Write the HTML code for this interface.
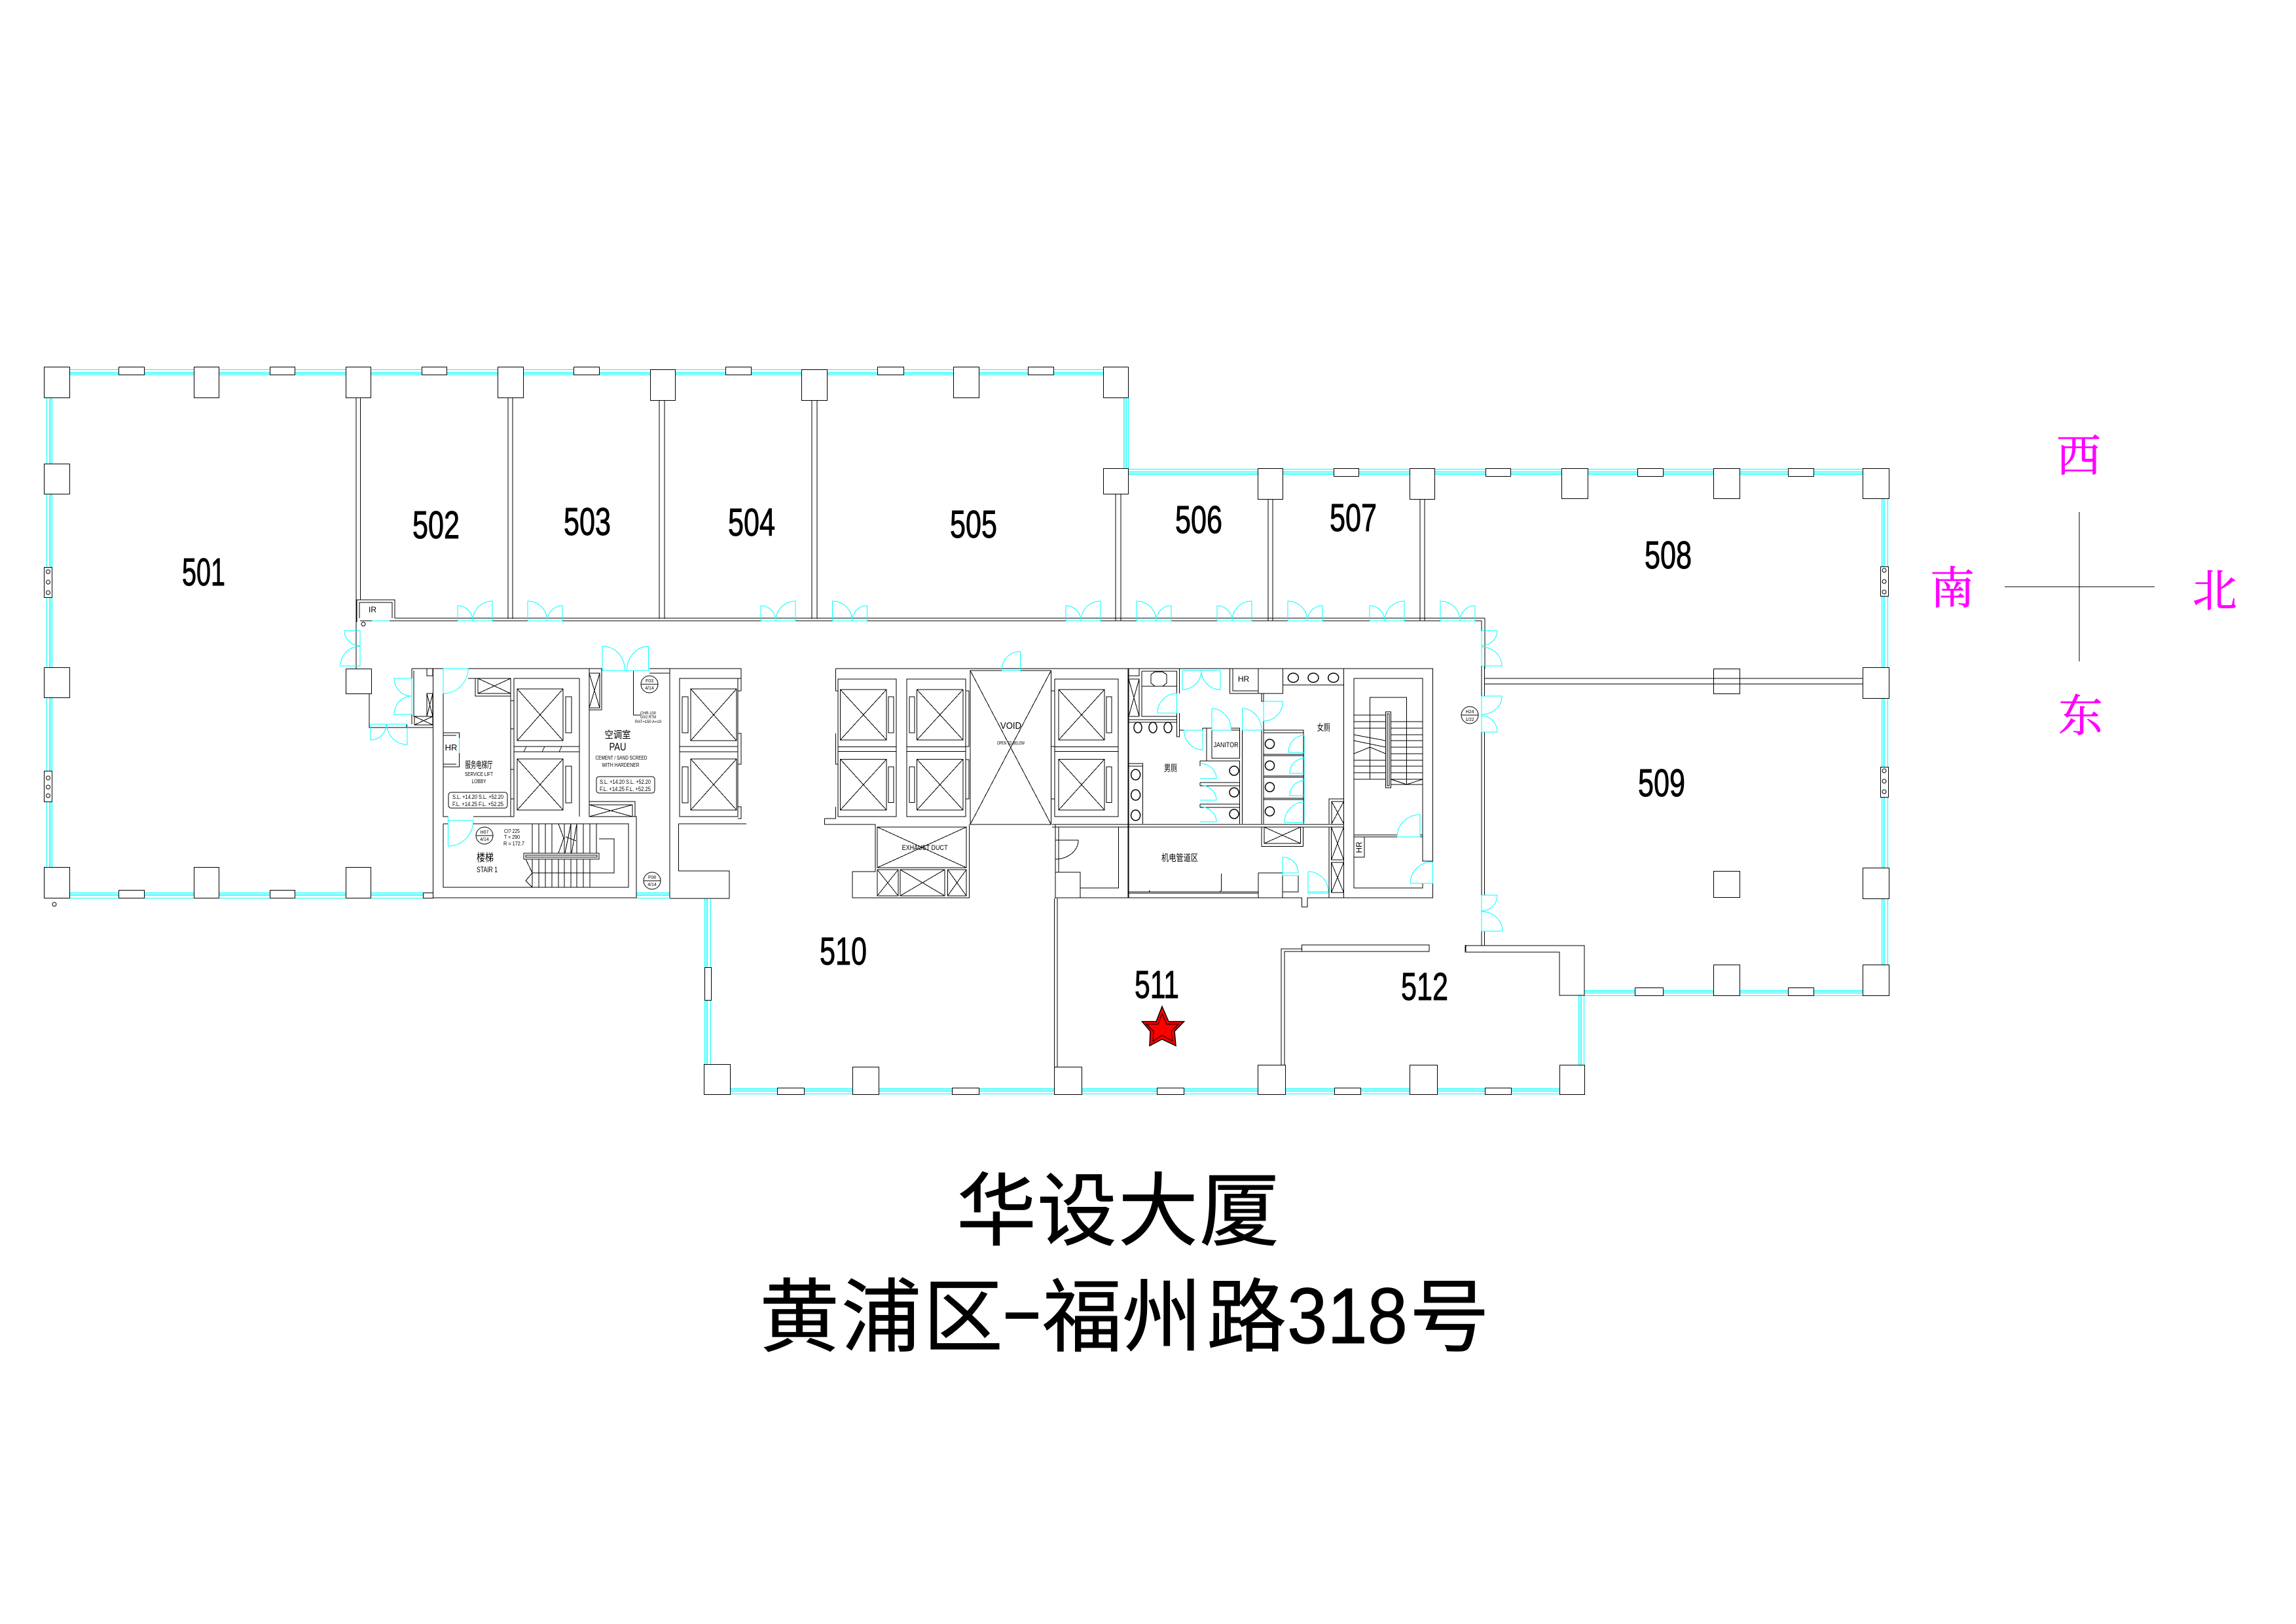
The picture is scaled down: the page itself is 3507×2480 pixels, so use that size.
<!DOCTYPE html>
<html><head><meta charset="utf-8"><title>华设大厦</title>
<style>
html,body{margin:0;padding:0;background:#fff}
svg{display:block}
.n{font-family:"Liberation Sans",sans-serif;font-size:59px;fill:#000;stroke:#000;stroke-width:1}
.s{font-family:"Liberation Sans","Noto Sans CJK SC",sans-serif;fill:#000;text-anchor:middle}
.t{font-family:"Liberation Sans","Noto Sans CJK SC",sans-serif;font-size:122px;fill:#000;stroke:#000;stroke-width:.8;text-anchor:middle}
.c{font-family:"Liberation Serif","Noto Serif CJK SC",serif;font-size:68px;fill:#f0f;stroke:#f0f;stroke-width:.8;text-anchor:middle}
</style></head><body>
<svg xmlns="http://www.w3.org/2000/svg" width="3507" height="2480" viewBox="0 0 3507 2480">
<defs>
<g id="dA"><rect x="0" y="27" width="53" height="4" fill="#fff" stroke="none"/><path d="M0 30H53V0A30 30 0 0 0 23 30M0 30V7A23 23 0 0 1 23 30"/></g>
<g id="dB"><rect x="0" y="27" width="53" height="4" fill="#fff" stroke="none"/><path d="M0 30H53V7A23 23 0 0 0 30 30M0 30V0A30 30 0 0 1 30 30"/></g>
</defs>
<rect width="3507" height="2480" fill="#fff"/>

<!-- glazing -->
<g fill="none" stroke="#0ff" stroke-width="1" shape-rendering="crispEdges">
<path d="M80 564.500H1700M80 568.500H1700M80 570.500H1700M80 572.500H1700"/>
<path d="M71.500 590V1350M75.500 590V1350M77.500 590V1350M79.500 590V1350"/>
<path d="M80 1363.500H660M80 1365.500H660M80 1367.500H660M80 1371.500H660"/>
<path d="M972 1363.500H1023M972 1365.500H1023M972 1367.500H1023M972 1371.500H1023"/>
<path d="M1716.500 590V730M1718.500 590V730M1720.500 590V730M1723.500 590V730"/>
<path d="M1723 716.500H2860M1723 720.500H2860M1723 722.500H2860M1723 724.500H2860"/>
<path d="M2874.500 730V1500M2876.500 730V1500M2878.500 730V1500M2883.500 730V1500"/>
<path d="M2420 1512.500H2860M2420 1514.500H2860M2420 1516.500H2860M2420 1520.500H2860"/>
<path d="M2411.500 1519V1640M2413.500 1519V1640M2415.500 1519V1640M2419.500 1519V1640"/>
<path d="M1100 1662.500H2400M1100 1664.500H2400M1100 1666.500H2400M1100 1670.500H2400"/>
<path d="M1076.500 1372V1640M1078.500 1372V1640M1080.500 1372V1640M1085.500 1372V1640"/>
</g>

<!-- columns and windows -->
<g fill="#fff" stroke="#000" stroke-width="1" shape-rendering="crispEdges">
<rect x="67.500" y="560.500" width="39" height="47"/><rect x="296.500" y="560.500" width="38" height="47"/><rect x="528.500" y="560.500" width="38" height="47"/><rect x="760.500" y="560.500" width="39" height="47"/><rect x="993.500" y="564.500" width="38" height="47"/><rect x="1224.500" y="564.500" width="39" height="47"/><rect x="1456.500" y="560.500" width="39" height="47"/><rect x="1685.500" y="560.500" width="38" height="47"/>
<rect x="181.500" y="560.500" width="39" height="12"/><rect x="412.500" y="560.500" width="38" height="12"/><rect x="644.500" y="560.500" width="38" height="12"/><rect x="876.500" y="560.500" width="39" height="12"/><rect x="1108.500" y="560.500" width="39" height="12"/><rect x="1340.500" y="560.500" width="40" height="12"/><rect x="1570.500" y="560.500" width="39" height="12"/>
<rect x="67.500" y="708.500" width="39" height="46"/><rect x="67.500" y="1019.500" width="39" height="46"/><rect x="67.500" y="1324.500" width="39" height="47"/><rect x="67.500" y="866.500" width="12" height="46"/><rect x="67.500" y="1177.500" width="12" height="47"/>
<rect x="296.500" y="1324.500" width="38" height="47"/><rect x="528.500" y="1324.500" width="38" height="47"/><rect x="181.500" y="1359.500" width="39" height="12"/><rect x="412.500" y="1359.500" width="38" height="12"/><rect x="646.500" y="1363.500" width="15" height="8"/>
<rect x="1685.500" y="715.500" width="38" height="39"/><rect x="1921.500" y="715.500" width="38" height="47"/><rect x="2153.500" y="715.500" width="38" height="47"/><rect x="2385.500" y="715.500" width="40" height="46"/><rect x="2617.500" y="715.500" width="40" height="46"/><rect x="2845.500" y="715.500" width="40" height="46"/>
<rect x="2037.500" y="715.500" width="38" height="12"/><rect x="2269.500" y="715.500" width="38" height="12"/><rect x="2501.500" y="715.500" width="39" height="12"/><rect x="2731.500" y="715.500" width="39" height="12"/>
<rect x="2872.500" y="865.500" width="12" height="45"/><rect x="2872.500" y="1171.500" width="12" height="46"/>
<rect x="2617.500" y="1021.500" width="40" height="38"/><rect x="2845.500" y="1019.500" width="40" height="47"/><rect x="2845.500" y="1325.500" width="40" height="47"/><rect x="2845.500" y="1473.500" width="40" height="47"/>
<rect x="2617.500" y="1330.500" width="40" height="40"/><rect x="2617.500" y="1473.500" width="40" height="47"/><rect x="2497.500" y="1508.500" width="43" height="12"/><rect x="2731.500" y="1508.500" width="39" height="12"/>
<rect x="1075.500" y="1625.500" width="40" height="46"/><rect x="1302.500" y="1629.500" width="40" height="42"/><rect x="1610.500" y="1629.500" width="42" height="42"/><rect x="1921.500" y="1626.500" width="42" height="45"/><rect x="2153.500" y="1626.500" width="42" height="45"/><rect x="2382.500" y="1626.500" width="38" height="45"/>
<rect x="1187.500" y="1661.500" width="41" height="10"/><rect x="1454.500" y="1661.500" width="41" height="10"/><rect x="1767.500" y="1661.500" width="41" height="10"/><rect x="2038.500" y="1661.500" width="40" height="10"/><rect x="2268.500" y="1661.500" width="40" height="10"/>
<rect x="1076.500" y="1477.500" width="10" height="50"/>
<rect x="528.500" y="1021.500" width="39" height="38"/>
</g>
<g fill="none" stroke="#000" stroke-width="1">
<circle cx="73.500" cy="873" r="3"/><circle cx="73.500" cy="889" r="3"/><circle cx="73.500" cy="905" r="3"/><circle cx="73.500" cy="1188" r="3"/><circle cx="73.500" cy="1202" r="3"/><circle cx="73.500" cy="1215" r="3"/>
<circle cx="2878" cy="871" r="3"/><circle cx="2878" cy="888" r="3"/><circle cx="2878" cy="904" r="3"/><circle cx="2878" cy="1177" r="3"/><circle cx="2878" cy="1193" r="3"/><circle cx="2878" cy="1209" r="3"/>
<circle cx="83" cy="1381" r="3"/><circle cx="555" cy="953" r="3"/>
</g>

<!-- black walls -->
<g fill="none" stroke="#000" stroke-width="1" shape-rendering="crispEdges">
<!-- partitions -->
<path d="M544 607V1021M550.500 607V916M776 607V945M783 607V945M1007 611V945M1015 611V945M1240 611V945M1248 611V945M1704 754V948M1712 754V948M1937 762V948M1944 762V948M2169 762V948M2176 762V948"/>
<path d="M603 944H2268M550 948H2263M2268 944V1021M2263 948V963"/>
<path d="M545 950V916H603V944M549 944V920H599V944"/>
<path d="M2263 1017V1063M2267.500 1017V1063M2263 1118V1367M2267.500 1118V1367M2263 1422V1444M2267.500 1422V1444"/>
<path d="M2267 1036H2845M2267 1044.500H2845"/>
<path d="M2238 1444H2420V1520H2382V1454H2238Z"/>
<path d="M1988.500 1443H2183V1453H1988.500ZM1957 1626V1449H1988.500M1962 1626V1453H1988.500"/>
<path d="M2239 1443V1453"/>
<path d="M1610.500 1372V1629M1615 1372V1629"/>
<!-- core left -->
<path d="M629 1021H677M715 1021H920M992 1021H1132V1036H1127M992 1028H1023M1023 1021V1371M661.500 1021V1371H972V1247H900V1021M885 1036V1247M972 1371"/>
<path d="M564 1059V1111H621V1106M629 1021V1106M632 1024V1094H661M621 1111H661M633 1094H661V1107H633ZM633 1094L661 1107M661 1094L633 1107M652 1059H661V1094H652ZM652 1059L661 1094M661 1059L652 1094M652 1021H661V1032H652Z"/>
<path d="M677 1059V1247H684.500M723 1247H785M715 1036H780V1247M726 1036V1063H780M730 1036V1059H780M730 1036L780 1059M780 1036L730 1059"/>
<path d="M780 1070H785M780 1113H785M780 1175H785M780 1220H785"/>
<path d="M785 1036H885M785 1036V1247M785 1140H885M785 1148H885M790 1052H860V1131H790ZM790 1052L860 1131M860 1052L790 1131M864 1064H873V1119H864ZM790 1159H860V1237H790ZM790 1159L860 1237M860 1159L790 1237M864 1170H873V1226H864Z"/>
<path d="M804 1140L800 1148M832 1140L828 1148M858 1140L854 1148"/>
<path d="M900 1021H919V1084H900M900 1028H916V1081H900M900 1028L916 1081M916 1028L900 1081"/>
<path d="M967.500 1024V1092H979"/>
<path d="M900 1224H970V1247M900 1229H966V1247M900 1229L966 1247M966 1229L900 1247"/>
<path d="M677 1119H701.500V1127M677 1123H697M701.500 1150V1171H677M677 1167H697"/>
<rect x="685" y="1210" width="90" height="24" rx="4"/>
<rect x="911" y="1186" width="89" height="25" rx="4"/>
<path d="M1038 1036H1127V1247H1038ZM1038 1140H1127M1038 1148H1127M1055 1052H1125V1131H1055ZM1055 1052L1125 1131M1125 1052L1055 1131M1042 1064H1051V1119H1042ZM1055 1159H1125V1237H1055ZM1055 1159L1125 1237M1125 1159L1055 1237M1042 1171H1051V1226H1042Z"/>
<path d="M1127 1055H1132M1127 1120H1132V1167H1127M1127 1232H1132V1250H1127M1132 1036V1055"/>
<path d="M1036.500 1258H1140M1036.500 1258V1330H1114V1372H1023"/>
<!-- stair 1 -->
<path d="M677 1258H684.500M723 1258H960V1355H677V1258"/>
<path d="M800 1303H915V1312H800ZM803 1306H912V1309H803Z"/>
<path d="M915 1281H938V1333H813"/>
<path d="M813 1258V1303M823 1258V1303M833 1258V1303M843 1258V1303M862 1258V1303M872 1258V1303M881 1258V1303M891 1258V1303M901 1258V1303M911 1258V1303"/>
<path d="M813 1312V1355M823 1312V1355M833 1312V1355M843 1312V1355M853 1312V1355M862 1312V1355M872 1312V1355M881 1312V1355M891 1312V1355M901 1312V1355"/>
<path d="M853 1258L861 1280L853 1303M863 1303L872 1258M873 1303L881 1258M864 1278L880 1284M803 1312L813 1333L803 1345L813 1355"/>
<!-- centre lifts -->
<path d="M1276.500 1021H2188.500V1371H2030M1276.500 1021V1055H1280M1276.500 1120V1167H1280M1276.500 1232V1250"/>
<path d="M1280 1037H1369V1247H1280ZM1280 1140.500H1369M1280 1147.500H1369M1283.500 1053H1354V1130H1283.500ZM1283.500 1053L1354 1130M1354 1053L1283.500 1130M1357 1064H1365V1119H1357ZM1283.500 1159.500H1354V1237H1283.500ZM1283.500 1159.500L1354 1237M1354 1159.500L1283.500 1237M1357 1171H1365V1225.500H1357Z"/>
<path d="M1385 1037H1475V1247H1385ZM1385 1140.500H1475M1385 1147.500H1475M1400.500 1053H1471V1130H1400.500ZM1400.500 1053L1471 1130M1471 1053L1400.500 1130M1389 1064H1397V1119H1389ZM1400.500 1159.500H1471V1237H1400.500ZM1400.500 1159.500L1471 1237M1471 1159.500L1400.500 1237M1389 1171H1397V1225.500H1389Z"/>
<path d="M1482 1024H1605.500V1259H1482ZM1482 1024L1605.500 1259M1605.500 1024L1482 1259"/>
<path d="M1611 1037H1708V1247H1611ZM1611 1140.500H1708M1611 1147.500H1708M1617 1053H1687V1130H1617ZM1617 1053L1687 1130M1687 1053L1617 1130M1690 1064H1698V1119H1690ZM1617 1159.500H1687V1237H1617ZM1617 1159.500L1687 1237M1687 1159.500L1617 1237M1690 1171H1698V1225.500H1690Z"/>
<path d="M1475 1055H1480V1140H1475M1475 1160H1480V1220H1475M1605.500 1055H1611M1605.500 1140H1611M1605.500 1220H1611"/>
<path d="M1259.500 1250H1276.500M1259.500 1250V1259H1337V1331H1302V1371H1480.500V1259"/>
<path d="M1340 1263H1476V1325H1340ZM1340 1263L1476 1325M1476 1263L1340 1325M1340 1328H1372V1368H1340ZM1340 1328L1372 1368M1372 1328L1340 1368M1375 1328H1443V1368H1375ZM1375 1328L1443 1368M1443 1328L1375 1368M1447.500 1328H1476V1368H1447.500ZM1447.500 1328L1476 1368M1476 1328L1447.500 1368"/>
<path d="M1612 1259V1372M1617 1263H1708.500V1356H1650M1617 1263V1332M1612 1283H1647A35 29 0 0 1 1612 1312M1612 1332H1650V1371H1612"/>
<path d="M1723 1021V1371M1607 1259H2052M1607 1263H2052M1620 1371H1988.500V1385H1997V1371H2030"/>
<!-- washrooms -->
<path d="M1724 1021H1740V1032H1724ZM1724 1037H1740V1094H1724ZM1724 1037L1740 1094M1740 1037L1724 1094M1744 1025H1797.500V1059M1744 1025V1094H1768M1744 1048H1797.500M1797.500 1089V1094H1744M1724 1099H1797.500M1724 1103H1797.500M1801.500 1021V1059M1797.500 1089V1103M1801.500 1089V1125H1797.500V1103M1801.500 1115H1808"/>
<path d="M1758 1030L1764 1026H1776L1782 1030V1043L1776 1048H1764L1758 1043Z"/>
<path d="M1878.500 1021V1059H1922M1883 1021V1055H1922M1922 1021H1959.500V1059H1922ZM1927 1059V1071H1930V1059M1959.500 1046H2052.500M2052.500 1021V1371"/>
<path d="M1837 1115V1112H1851M1880.500 1112H1893.500V1115M1843 1112V1162M1851 1115H1893.500V1158H1851ZM1833 1162H1893.500V1258M1833 1162V1170M1833 1195H1893.500M1833 1200H1893.500M1833 1228H1893.500M1833 1233H1893.500M1833 1195V1200M1833 1228V1233M1897.500 1115V1258M1927 1115V1258M1930 1115H1991V1258M1930 1119H1991M1930 1152H1991M1930 1154H1991M1930 1185H1991M1930 1187H1991M1930 1219H1991M1930 1221H1991M1930 1101V1258"/>
<path d="M1724 1166H1745.500V1258M1724 1170H1745.500M1724 1021V1371"/>
<path d="M2030 1258V1220H2052.500M2034 1258V1224H2052.500M2034 1224L2052.500 1258M2052.500 1224L2034 1258M2033.500 1263H2052.500V1313H2033.500ZM2033.500 1263L2052.500 1313M2052.500 1263L2033.500 1313M2033.500 1317H2052.500V1363H2033.500ZM2033.500 1317L2052.500 1363M2052.500 1317L2033.500 1363M2030 1263V1371"/>
<path d="M1927 1263V1292.500H1990.500V1263M1931 1263H1986.500V1288H1931ZM1931 1263L1986.500 1288M1986.500 1263L1931 1288"/>
<path d="M1724 1362H1922M1724 1364H1922M1922 1333H1959V1371M1922 1333V1371M1959 1362H1983V1337M1865.500 1334V1360L1863 1362M1755 1360L1757 1362"/>
<!-- stair 2 -->
<path d="M2068 1036H2173V1315H2188.500M2068 1036V1356H2173V1349"/>
<path d="M2116.500 1087H2124.500V1203H2116.500ZM2119 1090H2122V1200H2119Z"/>
<path d="M2092.500 1087V1065H2148.500V1198M2092.500 1087V1190"/>
<path d="M2068 1092H2116.500M2068 1102H2116.500M2068 1112H2116.500M2068 1122L2116.500 1131M2068 1131L2116.500 1141M2068 1151L2092.500 1141L2116.500 1151M2068 1161H2116.500M2068 1170H2116.500M2068 1180H2116.500M2068 1190H2116.500"/>
<path d="M2124.500 1102H2173M2124.500 1112H2173M2124.500 1122H2173M2124.500 1131H2173M2124.500 1141H2173M2124.500 1151H2173M2124.500 1161H2173M2124.500 1170H2173M2124.500 1180H2173M2124.500 1190H2173M2124.500 1198H2173M2124.500 1190L2148.500 1198L2173 1190"/>
<path d="M2068 1275H2134M2068 1278H2134M2169 1275H2173M2169 1278H2173M2084 1278V1309H2068"/>
</g>

<!-- fixtures and tag circles -->
<g fill="#fff" stroke="#000" stroke-width="1.500">
<ellipse cx="1738" cy="1111" rx="6" ry="8"/><ellipse cx="1761" cy="1111" rx="6" ry="8"/><ellipse cx="1784" cy="1111" rx="6" ry="8"/>
<ellipse cx="1975.400" cy="1035" rx="8" ry="7"/><ellipse cx="2006" cy="1035" rx="8" ry="7"/><ellipse cx="2036.700" cy="1035" rx="8" ry="7"/>
<ellipse cx="1734.600" cy="1183" rx="7" ry="8"/><ellipse cx="1734.600" cy="1214" rx="7" ry="8"/><ellipse cx="1734.600" cy="1245" rx="7" ry="8"/>
<circle cx="1885" cy="1177" r="7"/><circle cx="1885" cy="1210" r="7"/><circle cx="1885" cy="1243" r="7"/>
<circle cx="1939.500" cy="1136" r="7"/><circle cx="1939.500" cy="1169" r="7"/><circle cx="1939.500" cy="1202" r="7"/><circle cx="1939.500" cy="1239" r="7"/>
</g>
<g fill="#fff" stroke="#000" stroke-width="1">
<circle cx="740" cy="1276" r="13"/><circle cx="992" cy="1045" r="13"/><circle cx="996" cy="1345" r="13"/><circle cx="2245" cy="1092" r="13"/>
</g>
<path d="M727 1276H753M979 1045H1005M983 1345H1009M2232 1092H2258" stroke="#000" stroke-width="1" fill="none"/>

<!-- doors -->
<g fill="none" stroke="#0ff" stroke-width="1" shape-rendering="crispEdges">
<use href="#dA" x="699" y="918"/><use href="#dB" x="806" y="918"/><use href="#dA" x="1162" y="918"/><use href="#dB" x="1271.500" y="918"/><use href="#dA" x="1628" y="918"/><use href="#dB" x="1736" y="918"/><use href="#dA" x="1859" y="918"/><use href="#dB" x="1967" y="918"/><use href="#dA" x="2092" y="918"/><use href="#dB" x="2200" y="918"/>
<path d="M568 948H595"/>
<path d="M550 963V1017M550 963H526A24 23 0 0 0 550 986M550 1017H520A30 30 0 0 1 550 987"/>
<path d="M629 1036V1091M629 1036H602A27 27 0 0 0 629 1063M629 1091H602A27 28 0 0 1 629 1063"/>
<path d="M566 1106H622V1137A31 31 0 0 1 591 1106M566 1106V1130A24 24 0 0 0 590 1106"/>
<path d="M677 1021H715A38 38 0 0 1 677 1059ZM677 1021"/>
<path d="M920 1024H990.500V987A33 37 0 0 0 957.500 1024M920 1024V987A33 37 0 0 1 954.500 1024"/>
<path d="M701.500 1127V1150"/>
<path d="M684.500 1253H723A38 39 0 0 1 684.500 1292V1247"/>
<path d="M1530 1024H1558.500V995A28 29 0 0 0 1530 1024"/>
<path d="M2263 963V1017M2263 963H2287A24 23 0 0 1 2263 986M2263 1017H2294A31 29 0 0 0 2263 988"/>
<path d="M2263 1063V1118M2263 1063H2294A31 28 0 0 1 2263 1091M2263 1118H2287A24 25 0 0 0 2263 1093"/>
<path d="M2263 1367V1422M2263 1367H2287A24 24 0 0 1 2263 1391M2263 1422H2295A32 30 0 0 0 2263 1392"/>
<path d="M1806 1024H1864V1053A29 29 0 0 1 1835 1024A29 29 0 0 1 1806 1053V1024"/>
<path d="M1768 1089H1797.500V1059A29.500 30 0 0 0 1768 1089"/>
<path d="M1808.500 1115H1837V1145A28.500 30 0 0 1 1808.500 1115"/>
<path d="M1851 1082V1115H1880.500A29.500 33 0 0 0 1851 1082"/>
<path d="M1897.500 1082V1115H1927A29.500 33 0 0 0 1897.500 1082"/>
<path d="M1930 1071H1959.500A29.500 30 0 0 1 1930 1101V1071"/>
<path d="M1833 1166A25 23 0 0 1 1858 1189H1833M1833 1199A25 23 0 0 1 1858 1222H1833M1833 1232A25 23 0 0 1 1858 1255H1833"/>
<path d="M1992 1123V1149H1968A24 26 0 0 1 1992 1123M1992 1158V1181H1970A22 23 0 0 1 1992 1158M1992 1192V1215H1970A22 23 0 0 1 1992 1192M1992 1225V1256H1962A30 31 0 0 1 1992 1225M1992 1123V1256"/>
<path d="M1959 1309V1337H1983M1959 1309A24 24 0 0 1 1983 1333M1959 1333H1983"/>
<path d="M1998 1331V1364H2029M1998 1331A31 31 0 0 1 2029 1362M1998 1362H2029"/>
<path d="M2134 1278H2169V1244A35 34 0 0 0 2134 1278"/>
<path d="M2154 1349H2188.500V1316A34.500 33 0 0 0 2154 1349"/>
</g>

<!-- compass -->
<g stroke="#000" stroke-width="1" shape-rendering="crispEdges"><path d="M3176 782V1010"/><path d="M3062 896H3291"/></g>
<text class="c" x="3175" y="720">西</text>
<text class="c" x="2982" y="922">南</text>
<text class="c" x="3383" y="926">北</text>
<text class="c" x="3178" y="1117">东</text>

<!-- star -->
<path d="M1775 1537L1785 1560H1808.500L1794 1575L1796 1597L1775 1587L1756 1597L1757 1575L1744.500 1560H1766Z" fill="#f00" stroke="#000" stroke-width="1.500"/>
<path d="M1775 1548L1782 1564H1800L1789 1575L1791 1590L1775 1581L1761 1590L1762 1575L1751 1564H1769Z" fill="#f00" stroke="#000" stroke-width="1"/>

<!-- room numbers -->
<text class="n" x="278" y="894" textLength="66" lengthAdjust="spacingAndGlyphs">501</text>
<text class="n" x="630" y="822" textLength="72" lengthAdjust="spacingAndGlyphs">502</text>
<text class="n" x="861" y="817" textLength="72" lengthAdjust="spacingAndGlyphs">503</text>
<text class="n" x="1112" y="818" textLength="72" lengthAdjust="spacingAndGlyphs">504</text>
<text class="n" x="1451" y="821" textLength="72" lengthAdjust="spacingAndGlyphs">505</text>
<text class="n" x="1795" y="814" textLength="72" lengthAdjust="spacingAndGlyphs">506</text>
<text class="n" x="2031" y="811" textLength="72" lengthAdjust="spacingAndGlyphs">507</text>
<text class="n" x="2512" y="868" textLength="72" lengthAdjust="spacingAndGlyphs">508</text>
<text class="n" x="2502" y="1216" textLength="72" lengthAdjust="spacingAndGlyphs">509</text>
<text class="n" x="1252" y="1473" textLength="72" lengthAdjust="spacingAndGlyphs">510</text>
<text class="n" x="1733" y="1524" textLength="68" lengthAdjust="spacingAndGlyphs">511</text>
<text class="n" x="2140" y="1527" textLength="72" lengthAdjust="spacingAndGlyphs">512</text>

<!-- small labels -->
<g class="s">
<text class="s" x="569" y="935" font-size="12">IR</text>
<text class="s" x="689" y="1146" font-size="13">HR</text>
<text class="s" x="731.500" y="1173" font-size="14" textLength="42" lengthAdjust="spacingAndGlyphs">服务电梯厅</text>
<text class="s" x="731.500" y="1185" font-size="8" textLength="43" lengthAdjust="spacingAndGlyphs">SERVICE LIFT</text>
<text class="s" x="731.500" y="1196" font-size="8" textLength="22" lengthAdjust="spacingAndGlyphs">LOBBY</text>
<text class="s" x="730" y="1220" font-size="9" textLength="78" lengthAdjust="spacingAndGlyphs">S.L. +14.20 S.L. +52.20</text>
<text class="s" x="730" y="1231" font-size="9" textLength="78" lengthAdjust="spacingAndGlyphs">F.L. +14.25 F.L. +52.25</text>
<text class="s" x="943.500" y="1127" font-size="15" textLength="40" lengthAdjust="spacingAndGlyphs">空调室</text>
<text class="s" x="943.500" y="1146" font-size="17" textLength="26" lengthAdjust="spacingAndGlyphs">PAU</text>
<text class="s" x="949" y="1160" font-size="8" textLength="79" lengthAdjust="spacingAndGlyphs">CEMENT / SAND SCREED</text>
<text class="s" x="948" y="1171" font-size="8" textLength="57" lengthAdjust="spacingAndGlyphs">WITH HARDENER</text>
<text class="s" x="955" y="1197" font-size="9" textLength="78" lengthAdjust="spacingAndGlyphs">S.L. +14.20 S.L. +52.20</text>
<text class="s" x="955" y="1208" font-size="9" textLength="78" lengthAdjust="spacingAndGlyphs">F.L. +14.25 F.L. +52.25</text>
<text class="s" x="990" y="1091" font-size="6" textLength="24" lengthAdjust="spacingAndGlyphs">CHR-100</text>
<text class="s" x="990" y="1097" font-size="6" textLength="24" lengthAdjust="spacingAndGlyphs">G0/2 RTM</text>
<text class="s" x="990" y="1104" font-size="6" textLength="40" lengthAdjust="spacingAndGlyphs">RAT=150 A=19</text>
<text class="s" x="992" y="1042" font-size="7">F03</text><text class="s" x="992" y="1053" font-size="7">4/14</text>
<text class="s" x="740" y="1273" font-size="7">H07</text><text class="s" x="740" y="1284" font-size="7">4/14</text>
<text class="s" x="996" y="1342" font-size="7">F08</text><text class="s" x="996" y="1353" font-size="7">4/14</text>
<text class="s" x="2245" y="1089" font-size="7">H24</text><text class="s" x="2245" y="1101" font-size="7">1/22</text>
<text class="s" x="782" y="1272" font-size="8" textLength="24" lengthAdjust="spacingAndGlyphs">CI? 225</text>
<text class="s" x="782" y="1281" font-size="8" textLength="24" lengthAdjust="spacingAndGlyphs">T = 290</text>
<text class="s" x="785" y="1291" font-size="8" textLength="32" lengthAdjust="spacingAndGlyphs">R = 172.7</text>
<text class="s" x="741" y="1315" font-size="16" textLength="26" lengthAdjust="spacingAndGlyphs">楼梯</text>
<text class="s" x="744" y="1332" font-size="12" textLength="32" lengthAdjust="spacingAndGlyphs">STAIR 1</text>
<text class="s" x="1544" y="1113" font-size="15" textLength="32" lengthAdjust="spacingAndGlyphs">VOID</text>
<text class="s" x="1544" y="1137" font-size="7" textLength="42" lengthAdjust="spacingAndGlyphs">OPEN TO BELOW</text>
<text class="s" x="1412.600" y="1298" font-size="11" textLength="70" lengthAdjust="spacingAndGlyphs">EXHAUST DUCT</text>
<text class="s" x="1872.600" y="1141" font-size="11" textLength="38" lengthAdjust="spacingAndGlyphs">JANITOR</text>
<text class="s" x="1899.500" y="1041" font-size="12">HR</text>
<text class="s" x="2021.700" y="1116" font-size="14" textLength="20" lengthAdjust="spacingAndGlyphs">女厕</text>
<text class="s" x="1788" y="1178" font-size="14" textLength="20" lengthAdjust="spacingAndGlyphs">男厕</text>
<text class="s" x="1802" y="1315" font-size="14" textLength="56" lengthAdjust="spacingAndGlyphs">机电管道区</text>
<text class="s" font-size="12" transform="translate(2080,1294) rotate(-90)">HR</text>
</g>

<!-- title -->
<text class="t" x="1522" y="1892">华</text>
<text class="t" x="1645" y="1892">设</text>
<text class="t" x="1769" y="1892">大</text>
<text class="t" x="1893" y="1892">厦</text>
<text class="t" x="1221" y="2054">黄</text>
<text class="t" x="1346" y="2054">浦</text>
<text class="t" x="1471" y="2054">区</text>
<text x="1527" y="2042" font-family="Liberation Sans,sans-serif" font-size="124" textLength="68" lengthAdjust="spacingAndGlyphs">-</text>
<text class="t" x="1653" y="2054">福</text>
<text class="t" x="1775" y="2054">州</text>
<text class="t" x="1904" y="2054">路</text>
<text x="1966" y="2051" font-family="Liberation Sans,sans-serif" font-size="121" stroke="#000" stroke-width="1" textLength="184" lengthAdjust="spacingAndGlyphs">318</text>
<text class="t" x="2214" y="2054">号</text>
</svg>
</body></html>
